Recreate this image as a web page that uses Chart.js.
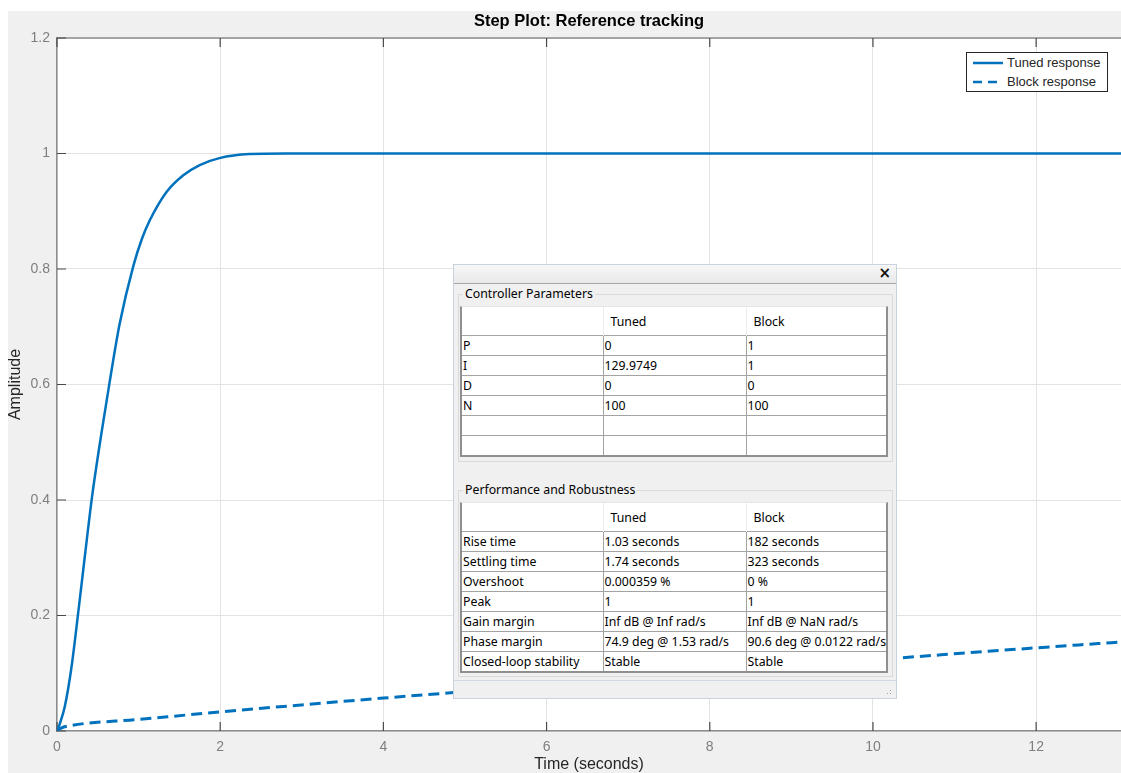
<!DOCTYPE html>
<html>
<head>
<meta charset="utf-8">
<script src="https://cdn.jsdelivr.net/npm/chart.js@4/dist/chart.umd.min.js"></script>
<style>
  html, body { margin: 0; padding: 0; background: #fff; }
  #wrap { position: relative; width: 1121px; height: 773px; overflow: hidden; }
  #plot { position: absolute; left: 0; top: 0; }

  #legend {
    position: absolute; left: 966px; top: 52px; width: 140px; height: 38px;
    background: #fff; border: 1px solid #262626;
    font: 13px "Liberation Sans", Arial, sans-serif; color: #262626;
  }
  #legend .row { position: absolute; left: 0; height: 16px; width: 140px; }
  #legend svg { position: absolute; left: 6px; top: 2px; }
  #legend span { position: absolute; left: 40px; top: 0px; }

  #panel {
    position: absolute; left: 453px; top: 264px; width: 442px; height: 433px;
    background: #f0f0f0; border: 1px solid #c9d2de;
    font: 12.3px "Noto Sans", "Open Sans", sans-serif; color: #000;
  }
  #panel .bar {
    position: absolute; left: 0; top: 0; width: 442px; height: 18px;
    background: linear-gradient(#f7f7f7, #e9e9e9); border-bottom: 1px solid #a8a8a8;
  }
  #panel .close {
    position: absolute; right: 5px; top: -1px;
    font: bold 15px "DejaVu Sans", sans-serif; color: #111;
  }
  .grp { position: absolute; left: 4px; width: 433px; border: 1px solid #dadada; }
  .grp .lbl {
    position: absolute; left: 4px; top: -9px; padding: 0 2px;
    background: #f0f0f0; line-height: 16px;
  }
  .tbl {
    position: absolute; left: 6px; width: 424px;
    border-left: 2px solid #8f8f8f; border-right: 2px solid #8f8f8f; border-bottom: 2px solid #8f8f8f;
    border-top: 1px solid #e6e6e6; background: #fff;
  }
  .tbl table { border-collapse: collapse; table-layout: fixed; width: 424px; }
  .tbl td {
    height: 19px; padding: 0 0 0 1px; border: 1px solid #a3a3a3;
    line-height: 19px; white-space: nowrap; overflow: hidden;
  }
  .tbl tr.head td { height: 28px; border: none; border-right: 1px solid #ececec; padding-left: 7px; }
  .tbl tr td:first-child { border-left: none; }
  .tbl tr:last-child td { border-bottom: none; }
  .tbl tr td:last-child { border-right: none; }
  #panel .status { position: absolute; left: 0; top: 415px; width: 442px; height: 18px; border-top: 1px solid #d3d9e2; }
  #panel .grip {
    position: absolute; right: 3px; bottom: 3px; width: 10px; height: 10px;
    background-image: radial-gradient(#a0a0a0 40%, transparent 45%);
    background-size: 3px 3px;
    clip-path: polygon(100% 0, 100% 100%, 0 100%);
  }
</style>
</head>
<body>
<div id="wrap">
  <canvas id="plot" width="1121" height="773"></canvas>

  <div id="legend">
    <div class="row" style="top:2px">
      <svg width="32" height="12"><line x1="0" y1="6" x2="30" y2="6" stroke="#0072BD" stroke-width="2.5"/></svg>
      <span>Tuned response</span>
    </div>
    <div class="row" style="top:21px">
      <svg width="32" height="12"><line x1="0" y1="6" x2="30" y2="6" stroke="#0072BD" stroke-width="2.5" stroke-dasharray="9,6"/></svg>
      <span>Block response</span>
    </div>
  </div>

  <div id="panel">
    <div class="bar"><span class="close">×</span></div>
    <div class="grp" style="top:29px;height:166px"><span class="lbl">Controller Parameters</span></div>
    <div class="tbl" id="tblParams" style="top:41px"></div>
    <div class="grp" style="top:225px;height:185px"><span class="lbl">Performance and Robustness</span></div>
    <div class="tbl" id="tblPerf" style="top:237px"></div>
    <div class="status"><div class="grip"></div></div>
  </div>
</div>

<script>
// step response samples (time in seconds, amplitude)
const tunedTime = [0, 0.033, 0.095, 0.177, 0.26, 0.339, 0.429, 0.544, 0.646, 0.768, 0.935, 1.04, 1.136, 1.34, 1.544, 1.749, 1.99, 2.36, 2.8, 13.04];
const tunedAmp  = [0, 0.012, 0.042, 0.11, 0.205, 0.3, 0.405, 0.515, 0.605, 0.705, 0.805, 0.852, 0.884, 0.933, 0.962, 0.98, 0.992, 0.999, 1.0, 1.0];

const blockTime = [0, 0.05, 0.15, 1, 2, 4, 6, 8, 10, 12, 13.04];
const blockAmp  = [0, 0.005, 0.009, 0.02, 0.033, 0.057, 0.079, 0.101, 0.123, 0.144, 0.154];

const xTicks = [0, 2, 4, 6, 8, 10, 12];
const xTickLabels = ['0', '2', '4', '6', '8', '10', '12'];
const yTicks = [0, 0.2, 0.4, 0.6, 0.8, 1, 1.2];
const yTickLabels = ['0', '0.2', '0.4', '0.6', '0.8', '1', '1.2'];

const paramHeader = ['', 'Tuned', 'Block'];
const paramRows = [
    ['P', '0', '1'],
    ['I', '129.9749', '1'],
    ['D', '0', '0'],
    ['N', '100', '100'],
    ['', '', ''],
    ['', '', '']
];
const perfHeader = ['', 'Tuned', 'Block'];
const perfRows = [
    ['Rise time', '1.03 seconds', '182 seconds'],
    ['Settling time', '1.74 seconds', '323 seconds'],
    ['Overshoot', '0.000359 %', '0 %'],
    ['Peak', '1', '1'],
    ['Gain margin', 'Inf dB @ Inf rad/s', 'Inf dB @ NaN rad/s'],
    ['Phase margin', '74.9 deg @ 1.53 rad/s', '90.6 deg @ 0.0122 rad/s'],
    ['Closed-loop stability', 'Stable', 'Stable']
];

const lineBlue = '#0072BD';
const gridColor = '#e3e3e3';
const axisColor = '#8c8c8c';
const tickLabelColor = '#7f7f7f';

function buildTable(id, header, rows) {
    let html = '<table><colgroup><col style="width:141px"><col style="width:143px"><col style="width:140px"></colgroup>';
    html += '<tr class="head">' + header.map(h => '<td>' + h + '</td>').join('') + '</tr>';
    rows.forEach(r => {
        html += '<tr>' + r.map(c => '<td>' + c + '</td>').join('') + '</tr>';
    });
    html += '</table>';
    document.getElementById(id).innerHTML = html;
}
buildTable('tblParams', paramHeader, paramRows);
buildTable('tblPerf', perfHeader, perfRows);

// grey figure background + white axes box
const figureBackground = {
    id: 'figureBackground',
    beforeDraw(chart) {
        const { ctx, chartArea: a } = chart;
        ctx.save();
        ctx.fillStyle = '#fff';
        ctx.fillRect(0, 0, chart.width, chart.height);
        ctx.fillStyle = '#f0f0f0';
        ctx.fillRect(8, 11, chart.width - 8, chart.height - 11);
        ctx.fillStyle = '#fff';
        ctx.fillRect(a.left, a.top, a.right - a.left, a.bottom - a.top);
        ctx.restore();
    }
};

// matlab style box: top edge and inward tick marks
const axesBox = {
    id: 'axesBox',
    beforeDatasetsDraw(chart) {
        const { ctx, chartArea: a, scales: { x, y } } = chart;
        ctx.save();
        ctx.strokeStyle = axisColor;
        ctx.lineWidth = 1.5;
        ctx.beginPath();
        ctx.moveTo(a.left, a.top);
        ctx.lineTo(a.right, a.top);
        ctx.stroke();

        ctx.strokeStyle = '#4a4a4a';
        ctx.lineWidth = 1.2;
        ctx.beginPath();
        xTicks.forEach(v => {
            const px = x.getPixelForValue(v);
            ctx.moveTo(px, a.bottom);
            ctx.lineTo(px, a.bottom - 9);
            ctx.moveTo(px, a.top);
            ctx.lineTo(px, a.top + 9);
        });
        yTicks.forEach(v => {
            const py = y.getPixelForValue(v);
            ctx.moveTo(a.left, py);
            ctx.lineTo(a.left + 9, py);
        });
        ctx.stroke();
        ctx.restore();
    }
};

const tickFont = { family: '"Liberation Sans", Arial, sans-serif', size: 14 };

new Chart(document.getElementById('plot'), {
    type: 'line',
    data: {
        datasets: [
            {
                label: 'Tuned response',
                data: tunedTime.map((t, i) => ({ x: t, y: tunedAmp[i] })),
                borderColor: lineBlue,
                borderWidth: 2.5,
                pointRadius: 0,
                fill: false,
                cubicInterpolationMode: 'monotone'
            },
            {
                label: 'Block response',
                data: blockTime.map((t, i) => ({ x: t, y: blockAmp[i] })),
                borderColor: lineBlue,
                borderWidth: 3,
                borderDash: [11, 6],
                pointRadius: 0,
                fill: false,
                cubicInterpolationMode: 'monotone'
            }
        ]
    },
    options: {
        responsive: false,
        animation: false,
        layout: { padding: { left: 0, right: 0, top: 0, bottom: 0 } },
        plugins: {
            legend: { display: false },
            tooltip: { enabled: false },
            title: {
                display: true,
                text: 'Step Plot: Reference tracking',
                fullSize: false,
                color: '#000',
                font: { family: '"Liberation Sans", Arial, sans-serif', size: 16.5, weight: 'bold', lineHeight: 1.2 },
                padding: { top: 11.5, bottom: 6.7 }
            }
        },
        scales: {
            x: {
                type: 'linear',
                min: 0,
                max: 13.04,
                afterBuildTicks: s => { s.ticks = xTicks.map(v => ({ value: v })); },
                afterFit: s => { s.height = 42; },
                grid: { color: gridColor, drawTicks: false },
                border: { color: axisColor, width: 1.5 },
                ticks: {
                    padding: 8,
                    color: tickLabelColor,
                    font: tickFont,
                    maxRotation: 0,
                    callback: v => xTickLabels[xTicks.indexOf(v)]
                },
                title: {
                    display: true,
                    text: 'Time (seconds)',
                    color: '#262626',
                    font: { family: '"Liberation Sans", Arial, sans-serif', size: 16, lineHeight: 1 },
                    padding: 0
                }
            },
            y: {
                type: 'linear',
                min: 0,
                max: 1.2,
                afterBuildTicks: s => { s.ticks = yTicks.map(v => ({ value: v })); },
                afterFit: s => { s.width = 57; },
                grid: { color: gridColor, drawTicks: false },
                border: { color: axisColor, width: 1.5 },
                ticks: {
                    padding: 7,
                    color: tickLabelColor,
                    font: tickFont,
                    callback: v => yTickLabels[yTicks.indexOf(v)]
                },
                title: {
                    display: true,
                    text: 'Amplitude',
                    color: '#262626',
                    font: { family: '"Liberation Sans", Arial, sans-serif', size: 16, lineHeight: 1 },
                    padding: { top: 8, bottom: 0 }
                }
            }
        }
    },
    plugins: [figureBackground, axesBox]
});
</script>
</body>
</html>
